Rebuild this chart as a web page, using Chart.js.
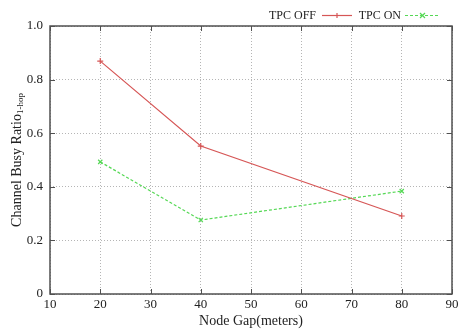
<!DOCTYPE html>
<html><head><meta charset="utf-8">
<script src="https://cdn.jsdelivr.net/npm/chart.js@4/dist/chart.umd.min.js"></script>
<style>html,body{margin:0;padding:0;background:#fff}#wrap{width:460px;height:330px}</style>
</head><body><div id="wrap"><canvas id="c" width="460" height="330"></canvas></div>
<script>
const nodeGap = [20, 40, 80];
const tpcOff = [0.869, 0.552, 0.291];
const tpcOn = [0.493, 0.276, 0.384];
const seriesLabels = ['TPC OFF', 'TPC ON'];
const xTicks = [10, 20, 30, 40, 50, 60, 70, 80, 90];
const yTicks = [0, 0.2, 0.4, 0.6, 0.8, 1.0];
const xTitle = 'Node Gap(meters)';
const yTitleMain = 'Channel Busy Ratio';
const yTitleSub = '1-hop';

const FONT = '"Liberation Serif", "DejaVu Serif", serif';
const RED = '#d65656';
const GREEN = '#55d855';

const framePlugin = {
  id: 'frame',
  afterDraw(chart) {
    const {ctx, chartArea: a} = chart;
    ctx.save();
    ctx.strokeStyle = '#505050';
    ctx.lineWidth = 1.5;
    ctx.strokeRect(a.left, a.top, a.right - a.left, a.bottom - a.top);
    ctx.lineWidth = 1;
    const xs = chart.scales.x, ys = chart.scales.y;
    xTicks.forEach(v => { const px = Math.round(xs.getPixelForValue(v)) + 0.5;
      ctx.beginPath(); ctx.moveTo(px, a.bottom); ctx.lineTo(px, a.bottom - 5);
      ctx.moveTo(px, a.top); ctx.lineTo(px, a.top + 5); ctx.stroke(); });
    yTicks.forEach(v => { const py = Math.round(ys.getPixelForValue(v)) + 0.5;
      ctx.beginPath(); ctx.moveTo(a.left, py); ctx.lineTo(a.left + 5, py);
      ctx.moveTo(a.right, py); ctx.lineTo(a.right - 5, py); ctx.stroke(); });
    // y title with subscript
    ctx.fillStyle = '#222';
    ctx.translate(17, (a.top + a.bottom) / 2);
    ctx.rotate(-Math.PI / 2);
    ctx.font = '14px ' + FONT;
    const w1 = ctx.measureText(yTitleMain).width;
    ctx.font = '9px ' + FONT;
    const w2 = ctx.measureText(yTitleSub).width;
    const start = -(w1 + w2) / 2;
    ctx.textBaseline = 'middle';
    ctx.textAlign = 'left';
    ctx.font = '14px ' + FONT;
    ctx.fillText(yTitleMain, start, 0);
    ctx.font = '9px ' + FONT;
    ctx.fillText(yTitleSub, start + w1, 4);
    ctx.restore();
    // legend
    ctx.save();
    ctx.font = '12px ' + FONT;
    ctx.fillStyle = '#222';
    ctx.textBaseline = 'middle';
    ctx.textAlign = 'right';
    const items = [
      {label: chart.data.datasets[0].label, color: RED, dash: [], style: 'cross', textRight: 316, x0: 322, x1: 352},
      {label: chart.data.datasets[1].label, color: GREEN, dash: [3, 2], style: 'crossRot', textRight: 401, x0: 405, x1: 440}
    ];
    const y = 15.5;
    items.forEach(it => {
      ctx.fillText(it.label, it.textRight, y);
      ctx.strokeStyle = it.color; ctx.lineWidth = 1.2; ctx.setLineDash(it.dash);
      ctx.beginPath(); ctx.moveTo(it.x0, y); ctx.lineTo(it.x1, y); ctx.stroke();
      ctx.setLineDash([]);
      const cx = (it.x0 + it.x1) / 2;
      ctx.beginPath();
      if (it.style === 'cross') { ctx.moveTo(cx - 2.5, y); ctx.lineTo(cx + 2.5, y); ctx.moveTo(cx, y - 2.5); ctx.lineTo(cx, y + 2.5); }
      else { ctx.moveTo(cx - 2.5, y - 2.5); ctx.lineTo(cx + 2.5, y + 2.5); ctx.moveTo(cx + 2.5, y - 2.5); ctx.lineTo(cx - 2.5, y + 2.5); }
      ctx.stroke();
    });
    ctx.restore();
  }
};

new Chart(document.getElementById('c'), {
  type: 'line',
  data: {
    datasets: [
      {label: seriesLabels[0], data: nodeGap.map((x, i) => ({x, y: tpcOff[i]})),
       borderColor: RED, backgroundColor: RED, borderWidth: 1.2, pointStyle: 'cross',
       pointRadius: 3, pointBorderWidth: 1.2, tension: 0, fill: false},
      {label: seriesLabels[1], data: nodeGap.map((x, i) => ({x, y: tpcOn[i]})),
       borderColor: GREEN, backgroundColor: GREEN, borderWidth: 1.2, borderDash: [3, 2], pointStyle: 'crossRot',
       pointRadius: 3, pointBorderWidth: 1.2, tension: 0, fill: false}
    ]
  },
  options: {
    responsive: false,
    animation: false,
    devicePixelRatio: 1,
    layout: {padding: {left: 0, right: 8, top: 26, bottom: 0}},
    plugins: {legend: {display: false}, tooltip: {enabled: false}},
    scales: {
      x: {
        type: 'linear', min: 10, max: 90,
        afterBuildTicks: s => { s.ticks = xTicks.map(v => ({value: v})); },
        afterFit: s => { s.height = 36; s.paddingRight = 0; s.paddingLeft = 0; },
        ticks: {color: '#222', font: {family: FONT, size: 13}, padding: 3, maxRotation: 0, autoSkip: false},
        grid: {color: '#b5b5b5', lineWidth: 1, drawTicks: false},
        border: {display: false, dash: [1, 2]},
        title: {display: true, text: xTitle, color: '#222', font: {family: FONT, size: 14}, padding: {top: 0, bottom: 0}}
      },
      y: {
        type: 'linear', min: 0, max: 1,
        afterBuildTicks: s => { s.ticks = yTicks.map(v => ({value: v})); },
        afterFit: s => { s.width = 50; s.paddingTop = 0; s.paddingBottom = 0; },
        ticks: {color: '#222', font: {family: FONT, size: 13}, padding: 7,
          callback: v => v === 0 ? '0' : v.toFixed(1)},
        grid: {color: '#b5b5b5', lineWidth: 1, drawTicks: false},
        border: {display: false, dash: [1, 2]}
      }
    }
  },
  plugins: [framePlugin]
});
</script></body></html>
